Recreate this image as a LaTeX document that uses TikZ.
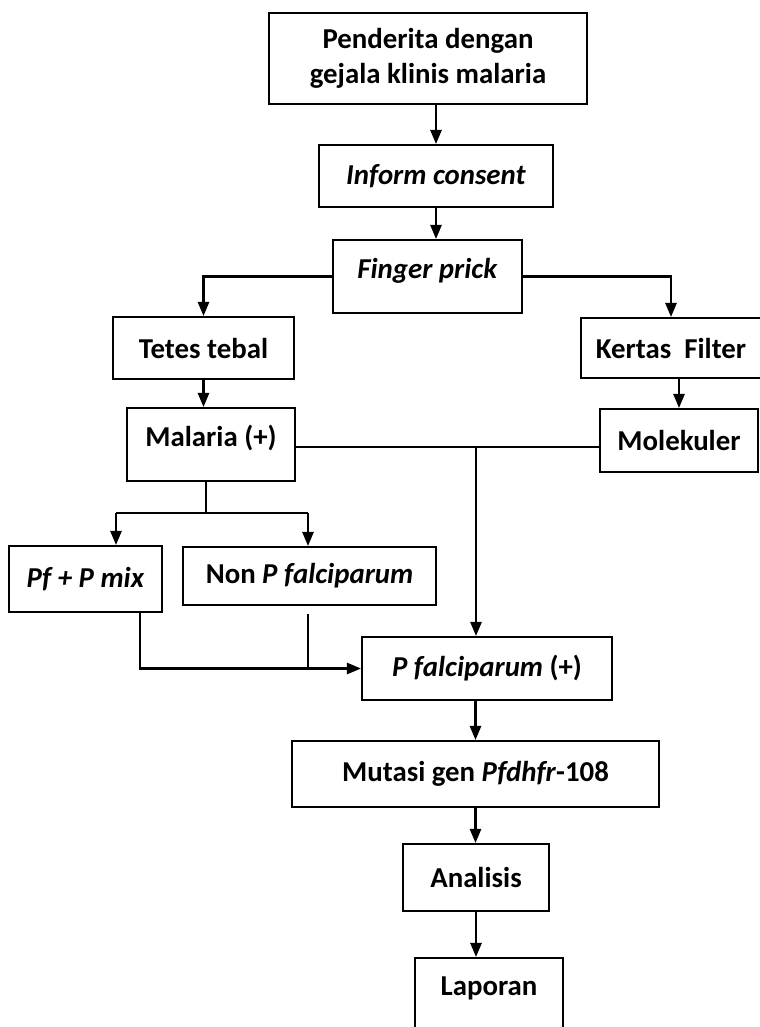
\documentclass[tikz,border=0pt]{standalone}
\usepackage{fontspec}
\setmainfont{Carlito}
\usepackage{tikz}
\usetikzlibrary{arrows.meta}

\tikzset{
	kotak/.style={draw, line width=1.5pt, align=center, inner xsep=2pt, inner ysep=2pt, font=\bfseries\fontsize{20.5}{25}\selectfont},
	kotakatas/.style={kotak, inner ysep=0pt, text height=0.95cm, text depth=0.875cm},
	garis/.style={line width=1.5pt},
	panah/.style={garis, -{Triangle[length=10pt,width=8pt]}}
}

\begin{document}
\begin{tikzpicture}[x=0.025cm, y=-0.025cm]
		\useasboundingbox (0,0) rectangle (760,1027);
		\node[kotak, minimum width=7.95cm, minimum height=2.275cm] (pend) at (428,58.5) {Penderita dengan\\gejala klinis malaria};
		\node[kotak, minimum width=5.85cm, minimum height=1.55cm] (inform) at (436,176) {\textit{Inform consent}};
		\node[kotakatas, minimum width=4.725cm] (finger) at (427.5,276.5) {\textit{Finger prick}};
		\node[kotak, minimum width=4.525cm, minimum height=1.55cm] (tetes) at (203.5,348) {Tetes tebal};
		\node[kotak, minimum width=4.5cm, minimum height=1.5cm] (kertas) at (671,348) {Kertas\ \ Filter};
		\node[kotakatas, minimum width=4.2cm] (malaria) at (211,444.5) {Malaria (+)};
		\node[kotak, minimum width=3.95cm, minimum height=1.575cm] (molekuler) at (679,440.5) {Molekuler};
		\node[kotak, minimum width=3.825cm, minimum height=1.65cm] (pfmix) at (85.5,579) {\textit{Pf + P mix}};
		\node[kotak, minimum width=6.325cm, minimum height=1.45cm] (nonp) at (309.5,576) {Non \textit{P falciparum}};
		\node[kotak, minimum width=6.25cm, minimum height=1.575cm] (pfalc) at (487,668.5) {\textit{P falciparum} (+)};
		\node[kotak, minimum width=9.175cm, minimum height=1.65cm] (mutasi) at (475.5,774) {Mutasi gen \textit{Pfdhfr}-108};
		\node[kotak, minimum width=3.65cm, minimum height=1.675cm] (analisis) at (476,877.5) {Analisis};
		\node[kotak, inner ysep=0pt, text height=0.925cm, text depth=1.25cm, minimum width=3.7cm] (laporan) at (489,1001.5) {Laporan};

		\coordinate (temu) at (476,447);
		\coordinate (cabang) at (206,513);
		\coordinate (kiri) at (116,513);
		\coordinate (kanan) at (308,513);
		\coordinate (gabung) at (140,667);
		\coordinate (tengah) at (308,667);

		\draw[panah] (pend.south -| inform.north) -- (inform.north);
		\draw[panah] (inform.south) -- (inform.south |- finger.north);
		\draw[panah] (finger.west) -| (tetes.north);
		\draw[panah] (finger.east) -| (kertas.north);
		\draw[panah] (tetes.south) -- (tetes.south |- malaria.north);
		\draw[panah] (molekuler.north |- kertas.south) -- (molekuler.north);
		\draw[garis] (malaria.east |- temu) -- (molekuler.west |- temu);
		\draw[panah] (temu) -- (temu |- pfalc.north);
		\draw[garis] (malaria.south -| cabang) -- (cabang);
		\draw[garis] (kiri) -- (kanan);
		\draw[panah] (kiri) -- (kiri |- pfmix.north);
		\draw[panah] (kanan) -- (kanan |- nonp.north);
		\draw[panah] (pfmix.south -| gabung) |- (pfalc.west);
		\draw[garis, shorten <=0.2cm] (nonp.south -| tengah) -- (tengah |- pfalc.west);
		\draw[panah] (mutasi.north |- pfalc.south) -- (mutasi.north);
		\draw[panah] (mutasi.south) -- (mutasi.south |- analisis.north);
		\draw[panah] (analisis.south) -- (analisis.south |- laporan.north);
	\end{tikzpicture}
\end{document}
